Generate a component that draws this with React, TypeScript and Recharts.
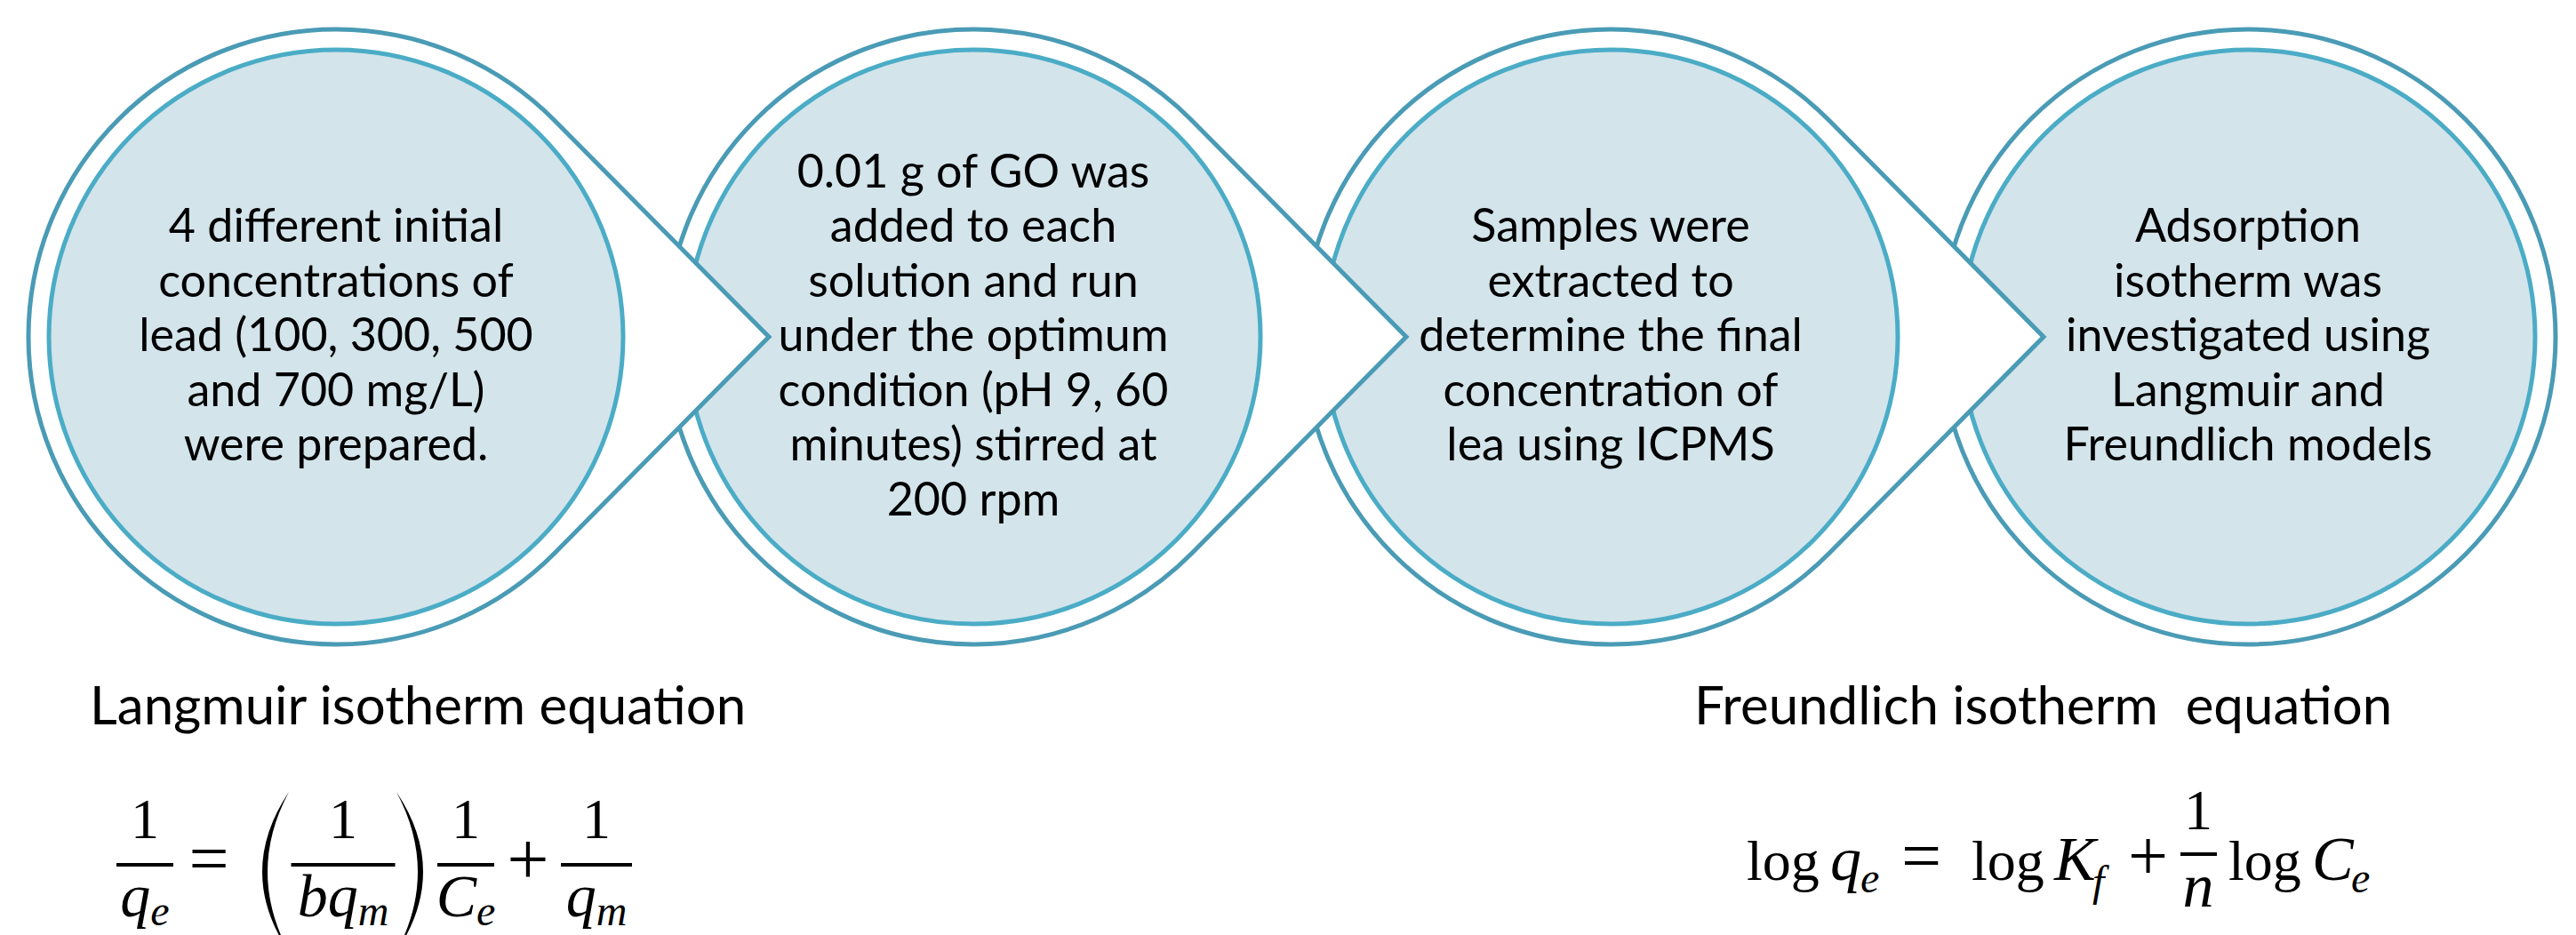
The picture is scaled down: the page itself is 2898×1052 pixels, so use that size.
import React from 'react';
import { ScatterChart, Scatter, XAxis, YAxis } from 'recharts';

// text inside each process circle, one entry per line
const step1Lines = ['4 different initial', 'concentrations of', 'lead (100, 300, 500', 'and 700 mg/L)', 'were prepared.'];
const step2Lines = [
    '0.01 g of GO was',
    'added to each',
    'solution and run',
    'under the optimum',
    'condition (pH 9, 60',
    'minutes) stirred at',
    '200 rpm',
];
const step3Lines = ['Samples were', 'extracted to', 'determine the final', 'concentration of', 'lea using ICPMS'];
const step4Lines = ['Adsorption', 'isotherm was', 'investigated using', 'Langmuir and', 'Freundlich models'];
const stepLines = [step1Lines, step2Lines, step3Lines, step4Lines];

const equationTitles = ['Langmuir isotherm equation', 'Freundlich isotherm  equation'];

// layout
const W = 2898;
const H = 1052;
const STEP_X0 = 378;
const STEP_DX = 717;
const STEP_Y = 379;
const OUTER_R = 346;
const INNER_R = 323;
const TIP_D = 487;
const TITLE_X = [101, 1906];
const TITLE_Y = 815;

const OUTER_STROKE = '#4a9bb5';
const INNER_STROKE = '#4bacc6';
const FILL = '#d3e4eb';
const TEXT_FONT = 'Lato, "Open Sans", sans-serif';
const MATH_FONT = '"Liberation Serif", "DejaVu Serif", serif';

// right-most circle first so each arrow overlaps the next circle
const stepData = stepLines
    .map((lines, i) => ({ x: STEP_X0 + i * STEP_DX, y: STEP_Y, lines, last: i === stepLines.length - 1 }))
    .reverse();

const titleData = equationTitles.map((title, i) => ({ x: TITLE_X[i], y: TITLE_Y, title, kind: i }));

const StepShape = (props: any) => {
    const { cx, cy, payload } = props;
    const theta = Math.acos(OUTER_R / TIP_D);
    const tx = cx + OUTER_R * Math.cos(theta);
    const ty = OUTER_R * Math.sin(theta);
    const lines: string[] = payload.lines;
    const n = lines.length;
    return (
        <g>
            {payload.last ? (
                <circle cx={cx} cy={cy} r={OUTER_R} fill="#fff" stroke={OUTER_STROKE} strokeWidth={5} />
            ) : (
                <path
                    d={`M ${tx} ${cy - ty} L ${cx + TIP_D} ${cy} L ${tx} ${cy + ty} A ${OUTER_R} ${OUTER_R} 0 1 1 ${tx} ${cy - ty} Z`}
                    fill="#fff"
                    stroke={OUTER_STROKE}
                    strokeWidth={5}
                    strokeLinejoin="miter"
                />
            )}
            <circle cx={cx} cy={cy} r={INNER_R} fill={FILL} stroke={INNER_STROKE} strokeWidth={5} />
            <text textAnchor="middle" fontFamily={TEXT_FONT} fontSize={52} fill="#000">
                {lines.map((l, k) => (
                    <tspan key={k} x={cx} y={cy + 16 + (k - (n - 1) / 2) * 61.5}>
                        {l}
                    </tspan>
                ))}
            </text>
        </g>
    );
};

const Frac = ({ cx, barY, width, num, den }: any) => (
    <g>
        <text x={cx} y={barY - 30} textAnchor="middle" fontFamily={MATH_FONT} fontSize={64}>
            {num}
        </text>
        <rect x={cx - width / 2} y={barY - 2} width={width} height={4} fill="#000" />
        <text x={cx} y={barY + 58} textAnchor="middle" fontFamily={MATH_FONT} fontSize={68}>
            {den}
        </text>
    </g>
);

const Sub = ({ children }: any) => (
    <tspan fontStyle="italic" fontSize={48} dy={10}>
        {children}
    </tspan>
);

const Paren = ({ x, top, bottom, left }: any) => {
    // filled crescent bracket; left=true opens to the right
    const mid = (top + bottom) / 2;
    const s = left ? -1 : 1;
    const outerC = x + s * 60;
    const innerC = x + s * 48;
    return (
        <path
            d={`M ${x} ${top} Q ${outerC} ${mid} ${x} ${bottom} Q ${innerC} ${mid} ${x} ${top} Z`}
            fill="#000"
        />
    );
};

const Langmuir = ({ ax, ay }: any) => {
    const bar = ay + 158;
    return (
        <g>
            <Frac cx={ax + 62} barY={bar} width={64} num="1" den={<><tspan fontStyle="italic">q</tspan><Sub>e</Sub></>} />
            <text x={ax + 134} y={bar + 20} textAnchor="middle" fontFamily={MATH_FONT} fontSize={80}>
                =
            </text>
            <Paren x={ax + 224} top={ay + 76} bottom={ay + 256} left />
            <Frac
                cx={ax + 285}
                barY={bar}
                width={117}
                num="1"
                den={<><tspan fontStyle="italic">bq</tspan><Sub>m</Sub></>}
            />
            <Paren x={ax + 345} top={ay + 76} bottom={ay + 256} left={false} />
            <Frac cx={ax + 423} barY={bar} width={64} num="1" den={<><tspan fontStyle="italic">C</tspan><Sub>e</Sub></>} />
            <text x={ax + 493} y={bar + 22} textAnchor="middle" fontFamily={MATH_FONT} fontSize={84}>
                +
            </text>
            <Frac cx={ax + 570} barY={bar} width={80} num="1" den={<><tspan fontStyle="italic">q</tspan><Sub>m</Sub></>} />
        </g>
    );
};

const Freundlich = ({ ax, ay }: any) => {
    const base = ay + 175;
    const sub = ay + 189;
    const t = (x: number, s: string, italic = false, y = base, size = 70) => (
        <text x={ax + x} y={y} fontFamily={MATH_FONT} fontSize={size} fontStyle={italic ? 'italic' : 'normal'}>
            {s}
        </text>
    );
    return (
        <g>
            {t(59, 'log', false, base, 64)}
            {t(153, 'q', true)}
            {t(187, 'e', true, sub, 48)}
            {t(233, '=', false, base, 80)}
            {t(312, 'log', false, base, 64)}
            {t(405, 'K', true)}
            {t(448, 'f', true, sub + 4, 48)}
            {t(488, '+', false, base, 80)}
            <text x={ax + 567} y={ay + 118} textAnchor="middle" fontFamily={MATH_FONT} fontSize={64}>
                1
            </text>
            <rect x={ax + 547} y={ay + 144} width={41} height={4} fill="#000" />
            <text x={ax + 567} y={ay + 205} textAnchor="middle" fontFamily={MATH_FONT} fontSize={70} fontStyle="italic">
                n
            </text>
            {t(601, 'log', false, base, 64)}
            {t(695, 'C', true)}
            {t(739, 'e', true, sub, 48)}
        </g>
    );
};

const EquationShape = (props: any) => {
    const { cx, cy, payload } = props;
    return (
        <g>
            <text x={cx} y={cy} fontFamily={TEXT_FONT} fontSize={60} fill="#000" style={{ whiteSpace: 'pre' }}>
                {payload.title}
            </text>
            {payload.kind === 0 ? <Langmuir ax={cx} ay={cy} /> : <Freundlich ax={cx} ay={cy} />}
        </g>
    );
};

const App: React.FC = () => {
    return (
        <div style={{ position: 'absolute', left: 0, top: 0, width: W, height: H, background: '#fff' }}>
            <ScatterChart width={W} height={H} margin={{ top: 0, right: 0, bottom: 0, left: 0 }}>
                <XAxis type="number" dataKey="x" domain={[0, W]} hide />
                <YAxis type="number" dataKey="y" domain={[0, H]} reversed hide />
                <Scatter data={stepData} shape={(p: any) => <StepShape {...p} />} isAnimationActive={false} />
                <Scatter data={titleData} shape={(p: any) => <EquationShape {...p} />} isAnimationActive={false} />
            </ScatterChart>
        </div>
    );
};

export default App;
